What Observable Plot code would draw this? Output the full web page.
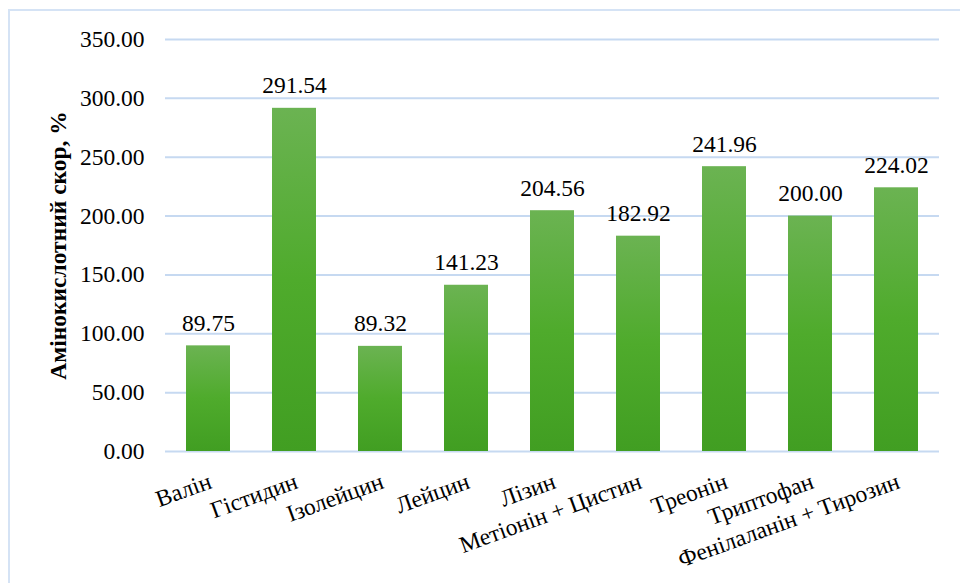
<!DOCTYPE html>
<html>
<head>
<meta charset="utf-8">
<script src="https://cdn.jsdelivr.net/npm/d3@7"></script>
<script src="https://cdn.jsdelivr.net/npm/@observablehq/plot@0.6"></script>
<style>
  html, body { margin: 0; padding: 0; background: #fff; }
  #wrap { position: relative; width: 960px; height: 583px; overflow: hidden; }
  #frame {
    position: absolute; left: 8px; top: 9px; width: 980px; height: 600px;
    border-left: 2px solid #d5e3f5; border-top: 2px solid #d5e3f5;
    box-sizing: border-box; pointer-events: none;
  }
  #chart { position: absolute; left: 0; top: 0; }
</style>
</head>
<body>
<div id="wrap">
  <div id="frame"></div>
  <div id="chart"></div>
</div>
<script>
// Amino acid score of each essential amino acid, %
const aminoAcids = [
  "Валін", "Гістидин", "Ізолейцин", "Лейцин", "Лізин",
  "Метіонін + Цистин", "Треонін", "Триптофан", "Фенілаланін + Тирозин"
];
const scores = [89.75, 291.54, 89.32, 141.23, 204.56, 182.92, 241.96, 200.00, 224.02];
const yTicks = [0, 50, 100, 150, 200, 250, 300, 350];
const yTitle = "Амінокислотний скор, %";

const rows = aminoAcids.map((name, i) => ({name, score: scores[i]}));
const font = "Liberation Serif, Times New Roman, serif";

const chart = Plot.plot({
  width: 960,
  height: 583,
  marginLeft: 165,
  marginRight: 21,
  marginTop: 39,
  marginBottom: 132,
  style: {fontFamily: font, fontSize: "23.5px", color: "#000", background: "transparent"},
  x: {domain: aminoAcids, paddingInner: 0.488, paddingOuter: 0.244, axis: null},
  y: {domain: [0, 350], axis: null},
  marks: [
    Plot.gridY(yTicks, {stroke: "#c6d9f1", strokeOpacity: 1, strokeWidth: 2}),
    Plot.axisY(yTicks, {
      tickSize: 0, tickPadding: 21, tickFormat: d3.format(".2f"),
      fontSize: 23.5, label: null
    }),
    Plot.barY(rows, {x: "name", y: "score", fill: "url(#barGradient)"}),
    Plot.text(rows, {
      x: "name", y: "score", text: d => d.score.toFixed(2),
      lineAnchor: "bottom", dy: -15, fontSize: 23.5, fill: "#000"
    }),
    Plot.text(aminoAcids, {
      x: d => d, frameAnchor: "bottom", text: d => d,
      rotate: -20, textAnchor: "end", lineAnchor: "middle",
      dx: 2, dy: 29, fontSize: 23.5, fill: "#000"
    }),
    Plot.text([yTitle], {
      frameAnchor: "left", text: d => d, rotate: -90,
      textAnchor: "middle", lineAnchor: "middle",
      dx: -107, fontSize: 23.5, fontWeight: "bold", fill: "#000"
    })
  ]
});

// Vertical green gradient shared by all bars
const defs = d3.select(chart).insert("defs", ":first-child");
const grad = defs.append("linearGradient")
  .attr("id", "barGradient")
  .attr("x1", 0).attr("y1", 0).attr("x2", 0).attr("y2", 1);
grad.append("stop").attr("offset", "0%").attr("stop-color", "#6bb352");
grad.append("stop").attr("offset", "50%").attr("stop-color", "#4fab2c");
grad.append("stop").attr("offset", "100%").attr("stop-color", "#419e22");

d3.select(chart).selectAll("text").attr("font-family", font);

document.getElementById("chart").appendChild(chart);
</script>
</body>
</html>
